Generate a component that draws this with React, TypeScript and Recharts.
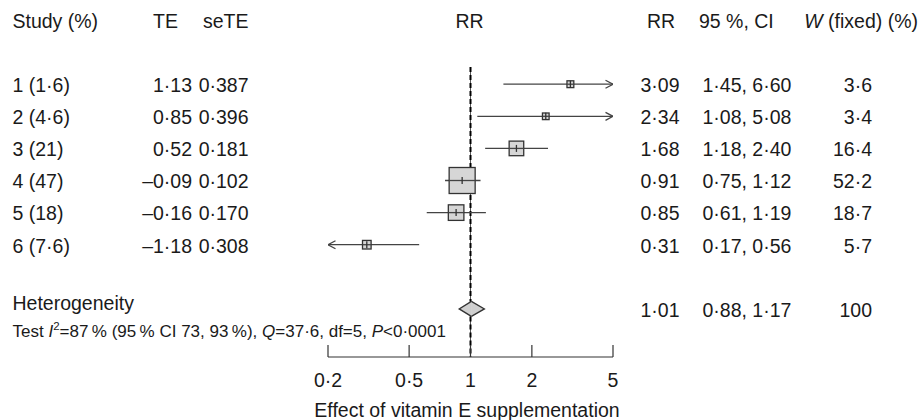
import React from 'react';
import {
  ComposedChart,
  Scatter,
  XAxis,
  YAxis,
  ErrorBar,
  ReferenceLine,
  ReferenceArea,
  Customized,
} from 'recharts';

// ---------- data ----------
const studyLabels = ['1 (1·6)', '2 (4·6)', '3 (21)', '4 (47)', '5 (18)', '6 (7·6)'];
const teValues = [1.13, 0.85, 0.52, -0.09, -0.16, -1.18];
const seTeValues = [0.387, 0.396, 0.181, 0.102, 0.17, 0.308];
const rrValues = [3.09, 2.34, 1.68, 0.91, 0.85, 0.31];
const ciLower = [1.45, 1.08, 1.18, 0.75, 0.61, 0.17];
const ciUpper = [6.6, 5.08, 2.4, 1.12, 1.19, 0.56];
const weightsFixed = [3.6, 3.4, 16.4, 52.2, 18.7, 5.7];

const pooledLabel = 'Heterogeneity';
const pooledRR = 1.01;
const pooledLower = 0.88;
const pooledUpper = 1.17;
const pooledWeight = 100;

const xTicks = [0.2, 0.5, 1, 2, 5];
const xDomain: [number, number] = [0.2, 5];
const rowTicks = [0, 1, 2, 3, 4, 5, 7];
const pooledRow = 7;

// ---------- styles ----------
const FONT = '"Liberation Sans", Arial, Helvetica, sans-serif';
const FS = 19.5;
const TXT = '#1a1a1a';
const LINE = '#444';
const EDGE = '#333';

const fmt = (v: number, d: number) => v.toFixed(d).replace('-', '\u2013').replace('.', '·');
const fmtTick = (v: number) => String(v).replace('.', '·');

function RowTick(props: any) {
  const { y, payload } = props;
  const i = payload.value as number;
  const by = y + 7.8;
  if (i === pooledRow) {
    return (
      <g fontFamily={FONT} fontSize={FS} fill={TXT}>
        <text x={12.5} y={y + 1.3}>{pooledLabel}</text>
        <text x={679.5} y={by} textAnchor="end">{fmt(pooledRR, 2)}</text>
        <text x={702.5} y={by}>{`${fmt(pooledLower, 2)}, ${fmt(pooledUpper, 2)}`}</text>
        <text x={872} y={by} textAnchor="end">{String(pooledWeight)}</text>
        <text x={12.5} y={y + 27.8} fontSize={17}>
          {'Test '}
          <tspan fontStyle="italic">I</tspan>
          <tspan dy={-6.5} fontSize={11.5}>2</tspan>
          <tspan dy={6.5}>{'=87\u2009% (95\u2009% CI 73, 93\u2009%), '}</tspan>
          <tspan fontStyle="italic">Q</tspan>
          <tspan>{'=37·6, df=5, '}</tspan>
          <tspan fontStyle="italic">P</tspan>
          <tspan>{'<0·0001'}</tspan>
        </text>
      </g>
    );
  }
  if (i < 0 || i >= studyLabels.length) return <g />;
  return (
    <g fontFamily={FONT} fontSize={FS} fill={TXT}>
      <text x={12.5} y={by}>{studyLabels[i]}</text>
      <text x={192} y={by} textAnchor="end">{fmt(teValues[i], 2)}</text>
      <text x={248.5} y={by} textAnchor="end">{fmt(seTeValues[i], 3)}</text>
      <text x={679.5} y={by} textAnchor="end">{fmt(rrValues[i], 2)}</text>
      <text x={702.5} y={by}>{`${fmt(ciLower[i], 2)}, ${fmt(ciUpper[i], 2)}`}</text>
      <text x={872} y={by} textAnchor="end">{fmt(weightsFixed[i], 1)}</text>
    </g>
  );
}

function XTick(props: any) {
  const { x, y, payload } = props;
  return (
    <g>
      <line x1={x} x2={x} y1={y - 12} y2={y} stroke={EDGE} strokeWidth={1.2} />
      <text x={x} y={y + 29.7} textAnchor="middle" fontFamily={FONT} fontSize={FS} fill={TXT}>
        {fmtTick(payload.value)}
      </text>
    </g>
  );
}

function StudyShape(props: any) {
  const { cx, cy } = props;
  const w = props.payload?.w ?? props.w;
  const s = 3.6 * Math.sqrt(w);
  return (
    <g>
      <rect x={cx - s / 2} y={cy - s / 2} width={s} height={s} fill="#d6d6d6" stroke={EDGE} strokeWidth={1.3} />
      <line x1={cx - s / 2} x2={cx + s / 2} y1={cy} y2={cy} stroke={LINE} strokeWidth={1.3} />
      <line x1={cx} x2={cx} y1={cy - 3.5} y2={cy + 3.5} stroke={EDGE} strokeWidth={1.3} />
    </g>
  );
}

function ArrowShape(props: any) {
  const { cx, cy } = props;
  const d = props.payload?.dir ?? props.dir;
  const L = 7.5;
  const H = 4;
  return (
    <polyline
      points={`${cx - d * L},${cy - H} ${cx},${cy} ${cx - d * L},${cy + H}`}
      fill="none"
      stroke={LINE}
      strokeWidth={1.3}
    />
  );
}

const diamondHalf = (side: 'left' | 'right') => (p: any) => {
  const x0 = Math.min(p.x, p.x + p.width);
  const x1 = Math.max(p.x, p.x + p.width);
  const y0 = Math.min(p.y, p.y + p.height);
  const y1 = Math.max(p.y, p.y + p.height);
  const cy = (y0 + y1) / 2;
  const pts =
    side === 'left'
      ? `${x1},${y0} ${x0},${cy} ${x1},${y1}`
      : `${x0},${y0} ${x1},${cy} ${x0},${y1}`;
  return (
    <g>
      <polygon points={pts} fill="#cfcfcf" fillOpacity={1} stroke="#cfcfcf" strokeWidth={0.6} />
      <polyline points={pts} fill="none" stroke={EDGE} strokeWidth={1.3} strokeLinejoin="miter" />
    </g>
  );
};

function Headers() {
  const hy = 27.5;
  return (
    <g fontFamily={FONT} fontSize={FS} fill={TXT}>
      <text x={12.5} y={hy}>Study (%)</text>
      <text x={153} y={hy}>TE</text>
      <text x={248.5} y={hy} textAnchor="end">seTE</text>
      <text x={469.5} y={hy} textAnchor="middle">RR</text>
      <text x={661} y={hy} textAnchor="middle">RR</text>
      <text x={699} y={hy}>95 %, CI</text>
      <text x={918} y={hy} textAnchor="end">
        <tspan fontStyle="italic">W</tspan>
        <tspan>{' (fixed) (%)'}</tspan>
      </text>
      <text x={467} y={416.7} textAnchor="middle">Effect of vitamin E supplementation</text>
    </g>
  );
}

export default function App() {
  const studyData = rrValues.map((rr, i) => {
    const lo = Math.max(ciLower[i], xDomain[0]);
    const hi = Math.min(ciUpper[i], xDomain[1]);
    return { x: rr, y: i, w: weightsFixed[i], err: [rr - lo, hi - rr] };
  });
  const arrowData: { x: number; y: number; dir: number }[] = [];
  rrValues.forEach((_, i) => {
    if (ciUpper[i] > xDomain[1]) arrowData.push({ x: xDomain[1], y: i, dir: 1 });
    if (ciLower[i] < xDomain[0]) arrowData.push({ x: xDomain[0], y: i, dir: -1 });
  });
  const dh = 0.234;
  const yDomain: [number, number] = [-0.536, 8.498];
  // vertical reference line at RR = 1, interrupted behind the pooled diamond
  const refSegments = [
    [{ x: 1, y: yDomain[0] }, { x: 1, y: pooledRow - dh }],
    [{ x: 1, y: pooledRow + dh }, { x: 1, y: yDomain[1] }],
  ];

  return (
    <div style={{ position: 'absolute', left: 0, top: 0, width: 920, height: 420, background: '#fff' }}>
      <ComposedChart width={920} height={420} margin={{ top: 67, right: 307, bottom: 0, left: 0 }}>
        <XAxis
          type="number"
          dataKey="x"
          scale="log"
          domain={xDomain}
          allowDataOverflow
          ticks={xTicks}
          interval={0}
          height={63}
          axisLine={{ stroke: EDGE, strokeWidth: 1.2 }}
          tickLine={false}
          tickSize={0}
          tickMargin={0}
          tick={(p: any) => <XTick {...p} />}
        />
        <YAxis
          type="number"
          dataKey="y"
          domain={yDomain}
          reversed
          allowDataOverflow
          ticks={rowTicks}
          interval={0}
          width={328}
          axisLine={false}
          tickLine={false}
          tickSize={0}
          tickMargin={0}
          tick={(p: any) => <RowTick {...p} />}
        />
        {refSegments.map((seg, k) => (
          <ReferenceLine key={`s${k}`} segment={seg} stroke="#555" strokeWidth={1} />
        ))}
        {refSegments.map((seg, k) => (
          <ReferenceLine key={`d${k}`} segment={seg} stroke="#000" strokeWidth={2} strokeDasharray="5 3" />
        ))}
        <ReferenceArea
          x1={pooledLower}
          x2={pooledRR}
          y1={pooledRow - dh}
          y2={pooledRow + dh}
          shape={diamondHalf('left')}
        />
        <ReferenceArea
          x1={pooledRR}
          x2={pooledUpper}
          y1={pooledRow - dh}
          y2={pooledRow + dh}
          shape={diamondHalf('right')}
        />
        <Scatter data={studyData} shape={StudyShape} isAnimationActive={false}>
          <ErrorBar dataKey="err" direction="x" width={0} stroke={LINE} strokeWidth={1.3} isAnimationActive={false} />
        </Scatter>
        <Scatter data={arrowData} shape={ArrowShape} isAnimationActive={false} />
        <Customized component={<Headers />} />
      </ComposedChart>
    </div>
  );
}
